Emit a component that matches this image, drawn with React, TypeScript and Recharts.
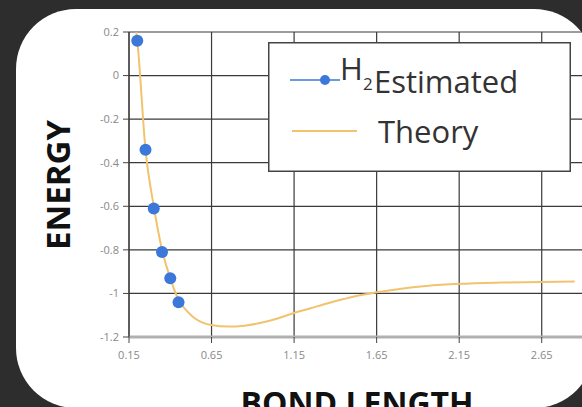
import React from 'react';
import {
  ComposedChart,
  Line,
  Scatter,
  XAxis,
  YAxis,
  CartesianGrid,
  Legend,
} from 'recharts';

// H2 estimated energies (dots)
const estimatedLength = [0.2, 0.25, 0.3, 0.35, 0.4, 0.45];
const estimatedEnergy = [0.16, -0.34, -0.61, -0.81, -0.93, -1.04];

// theory curve
const theoryLength = [
  0.19, 0.2, 0.25, 0.3, 0.35, 0.4, 0.45, 0.5, 0.55, 0.6, 0.65, 0.75, 0.85, 0.95,
  1.05, 1.15, 1.25, 1.35, 1.45, 1.55, 1.65, 1.8, 1.95, 2.15, 2.4, 2.65, 2.85,
];
const theoryEnergy = [
  0.22, 0.16, -0.34, -0.6, -0.8, -0.93, -1.03, -1.08, -1.115, -1.135, -1.145,
  -1.152, -1.148, -1.135, -1.115, -1.09, -1.068, -1.046, -1.026, -1.008, -0.995,
  -0.978, -0.966, -0.956, -0.95, -0.947, -0.945,
];

const xTicks = [0.15, 0.65, 1.15, 1.65, 2.15, 2.65];
const yTicks = [0.2, 0, -0.2, -0.4, -0.6, -0.8, -1, -1.2];

const estimated = estimatedLength.map((x, i) => ({ x, e: estimatedEnergy[i] }));
const theory = theoryLength.map((x, i) => ({ x, e: theoryEnergy[i] }));

const BLUE = '#3b78d9';
const ORANGE = '#f1c36f';
const FONT = '"Open Sans", sans-serif';

const LegendBox = () => (
  <svg width={303} height={130} style={{ display: 'block' }}>
    <rect x={0.75} y={0.75} width={301.5} height={128.5} fill="#fff" stroke="#444" strokeWidth={1.5} />
    <line x1={22} y1={38} x2={72} y2={38} stroke={BLUE} strokeWidth={1.5} />
    <circle cx={57} cy={38} r={5} fill={BLUE} />
    <text x={72} y={38} fontFamily={FONT} fontSize={31} fill="#333">H</text>
    <text x={95} y={48} fontFamily={FONT} fontSize={17} fill="#333">2</text>
    <text x={106} y={51} fontFamily={FONT} fontSize={31} fill="#333">Estimated</text>
    <line x1={24} y1={89} x2={89} y2={89} stroke={ORANGE} strokeWidth={2} />
    <text x={110} y={101} fontFamily={FONT} fontSize={31} fill="#333">Theory</text>
  </svg>
);

export default function App() {
  return (
    <div style={{ position: 'fixed', inset: 0, width: 582, height: 407, background: '#2d2d2d', overflow: 'hidden' }}>
      <div
        style={{
          position: 'absolute',
          left: 16,
          top: 9,
          width: 578,
          height: 399,
          background: '#fff',
          borderRadius: 60,
          overflow: 'hidden',
        }}
      >
        <ComposedChart
          width={600}
          height={400}
          margin={{ top: 23, right: 33, left: 0, bottom: 42 }}
        >
          <CartesianGrid stroke="#3a3a3a" strokeWidth={1.2} />
          <XAxis
            dataKey="x"
            type="number"
            domain={[0.15, 2.9]}
            ticks={xTicks}
            allowDataOverflow
            height={30}
            tickSize={6}
            tickMargin={8}
            axisLine={{ stroke: '#b0b0b0', strokeWidth: 3 }}
            tickLine={{ stroke: '#444' }}
            tick={{ fill: '#888', fontSize: 11, fontFamily: FONT }}
          />
          <YAxis
            type="number"
            domain={[-1.2, 0.2]}
            ticks={yTicks}
            allowDataOverflow
            width={113}
            tickSize={6}
            tickMargin={4}
            axisLine={{ stroke: '#333' }}
            tickLine={{ stroke: '#444' }}
            tick={{ fill: '#888', fontSize: 11, fontFamily: FONT }}
          />
          <Line
            data={theory}
            dataKey="e"
            name="Theory"
            type="monotone"
            stroke={ORANGE}
            strokeWidth={2}
            dot={false}
            activeDot={false}
            isAnimationActive={false}
          />
          <Scatter
            data={estimated}
            dataKey="e"
            name="H2Estimated"
            fill={BLUE}
            isAnimationActive={false}
            shape={(p: any) => <circle cx={p.cx} cy={p.cy} r={6} fill={BLUE} />}
          />
          <Legend
            layout="vertical"
            align="center"
            verticalAlign="middle"
            content={() => <LegendBox />}
            wrapperStyle={{ position: 'absolute', left: 252, top: 33, width: 303, height: 130 }}
          />
        </ComposedChart>
        <div
          style={{
            position: 'absolute',
            left: 0,
            top: 378,
            width: 682,
            textAlign: 'center',
            fontFamily: FONT,
            fontWeight: 700,
            fontSize: 32,
            color: '#111',
            lineHeight: '32px',
          }}
        >
          BOND LENGTH
        </div>
        <div
          style={{
            position: 'absolute',
            left: 41,
            top: 176,
            width: 0,
            height: 0,
          }}
        >
          <div
            style={{
              position: 'absolute',
              transform: 'translate(-50%, -50%) rotate(-90deg)',
              whiteSpace: 'nowrap',
              fontFamily: FONT,
              fontWeight: 700,
              fontSize: 33,
              color: '#111',
              lineHeight: '33px',
            }}
          >
            ENERGY
          </div>
        </div>
      </div>
    </div>
  );
}
